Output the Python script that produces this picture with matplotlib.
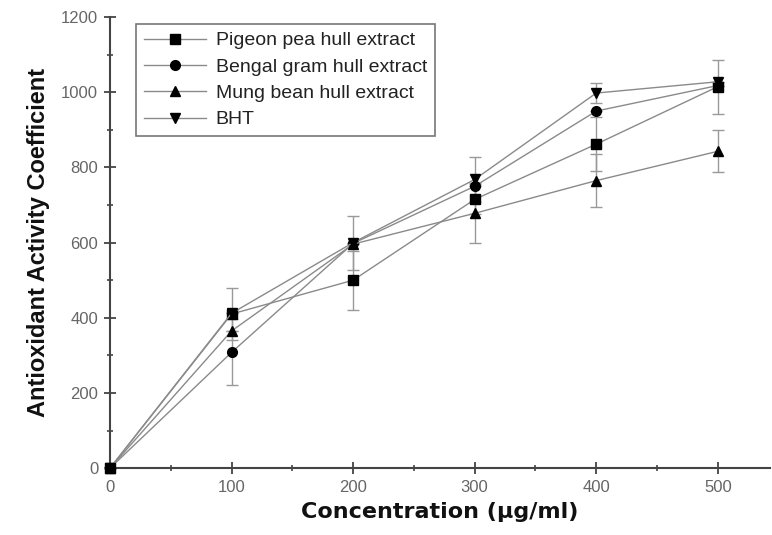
import matplotlib
matplotlib.use("Agg")
import matplotlib.pyplot as plt
from matplotlib.ticker import MultipleLocator

conc = [0, 100, 200, 300, 400, 500]
labels = ["Pigeon pea hull extract", "Bengal gram hull extract",
          "Mung bean hull extract", "BHT"]
pigeon = [0, 410, 500, 715, 862, 1015]
bengal = [0, 308, 598, 750, 950, 1018]
mung = [0, 365, 596, 678, 765, 843]
bht = [0, 412, 600, 768, 998, 1028]
pigeon_err = [0, 70, 78, 40, 72, 72]
bengal_err = [0, 88, 0, 0, 0, 0]
mung_err = [0, 0, 0, 80, 70, 56]
bht_err = [0, 0, 72, 60, 26, 0]

series = [(pigeon, pigeon_err, 's'), (bengal, bengal_err, 'o'),
          (mung, mung_err, '^'), (bht, bht_err, 'v')]

fig = plt.figure(figsize=(7.72, 5.35), dpi=100)
ax = fig.add_axes([0.1425, 0.125, 0.855, 0.843])

handles = []
for (vals, err, m), lab in zip(series, labels):
    ax.errorbar(conc, vals, yerr=err, fmt='none', ecolor='#999999',
                elinewidth=1.0, capsize=4, capthick=1.0, zorder=2, clip_on=False)
    h, = ax.plot(conc, vals, color='#8a8a8a', lw=1.0, marker=m, ms=7,
                 mfc='black', mec='black', zorder=3, clip_on=False, label=lab)
    handles.append(h)

ax.set_xlim(0, 543)
ax.set_ylim(0, 1200)
ax.xaxis.set_major_locator(MultipleLocator(100))
ax.xaxis.set_minor_locator(MultipleLocator(50))
ax.yaxis.set_major_locator(MultipleLocator(200))
ax.yaxis.set_minor_locator(MultipleLocator(100))
for s in ['top', 'right']:
    ax.spines[s].set_visible(False)
for s in ['left', 'bottom']:
    ax.spines[s].set_color('#444444')
    ax.spines[s].set_linewidth(1.5)
ax.tick_params(which='major', direction='inout', length=9, width=1.3,
               color='#444444', labelsize=12, labelcolor='#666666', pad=4)
ax.tick_params(which='minor', direction='inout', length=5, width=1.2,
               color='#444444')
for t in ax.get_xticklabels() + ax.get_yticklabels():
    t.set_family(['Liberation Sans', 'DejaVu Sans'])

ax.set_xlabel("Concentration (\u00b5g/ml)", fontsize=16, fontweight='heavy',
              family=['DejaVu Sans'], color='#111111', labelpad=5)
ax.set_ylabel("Antioxidant Activity Coefficient", fontsize=17, fontweight='bold',
              family=['Liberation Sans Narrow', 'Liberation Sans', 'DejaVu Sans'],
              color='#111111', labelpad=8)

leg = ax.legend(handles=handles, loc='upper left',
                bbox_to_anchor=(136 / 772, 1 - 24 / 535),
                bbox_transform=fig.transFigure, frameon=True, fancybox=False,
                edgecolor='#555555', handlelength=3.2, borderaxespad=0.0,
                borderpad=0.4, labelspacing=0.45, handletextpad=0.5,
                prop={'family': ['Liberation Sans', 'DejaVu Sans'], 'size': 14})
leg.get_frame().set_linewidth(1.2)
for t in leg.get_texts():
    t.set_color('#222222')

fig.savefig("out.png", dpi=100)
